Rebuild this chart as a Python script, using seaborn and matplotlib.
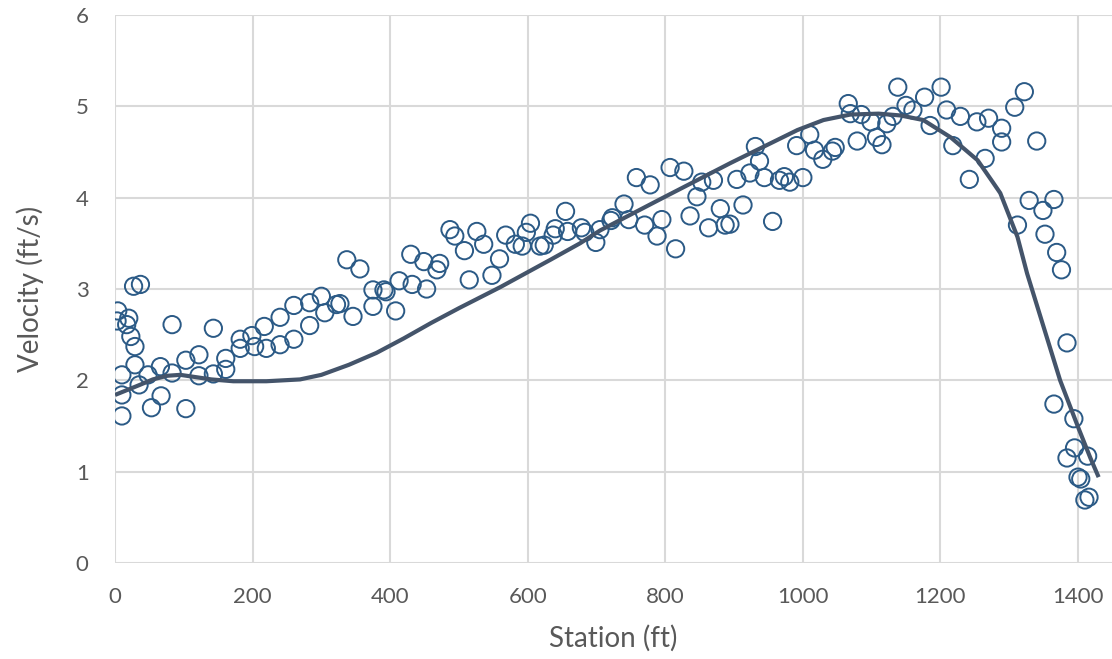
import matplotlib
matplotlib.use("Agg")
import matplotlib.pyplot as plt
import seaborn as sns
import pandas as pd

# Measured velocity points
station_obs = [3, 4, 10, 10, 10, 17, 20, 23, 29, 29, 27, 37, 35, 48, 53, 66, 67, 83, 83,
               103, 103, 122, 122, 143, 143, 161, 161, 182, 182, 199, 203, 217, 220, 240, 240,
               260, 260, 283, 283, 300, 305, 322, 327, 337, 346, 356, 375, 375, 391, 394, 408,
               413, 430, 432, 449, 453, 468, 472, 487, 494, 508, 515, 526, 536, 548, 559, 568,
               582, 592, 604, 598, 618, 624, 637, 640, 655, 658, 678, 683, 699, 705, 721, 723,
               740, 747, 758, 770, 778, 788, 795, 807, 815, 827, 836, 846, 853, 863, 870, 880,
               887, 894, 904, 913, 923, 931, 937, 944, 956, 966, 973, 981, 991, 1000, 1010, 1017,
               1029, 1043, 1047, 1066, 1069, 1079, 1085, 1099, 1107, 1115, 1122, 1131, 1138, 1150,
               1160, 1177, 1185, 1201, 1209, 1218, 1229, 1242, 1253, 1265, 1270, 1289, 1289, 1308,
               1322, 1312, 1329, 1340, 1349, 1352, 1365, 1369, 1376, 1365, 1384, 1394, 1395, 1384,
               1414, 1400, 1404, 1410, 1416]
velocity_obs = [2.65, 2.76, 2.06, 1.84, 1.61, 2.61, 2.68, 2.48, 2.37, 2.17, 3.03, 3.05, 1.95, 2.06,
                1.70, 2.15, 1.83, 2.61, 2.08, 1.69, 2.22, 2.28, 2.05, 2.57, 2.07, 2.24, 2.12, 2.45,
                2.35, 2.49, 2.37, 2.59, 2.35, 2.69, 2.39, 2.82, 2.45, 2.85, 2.60, 2.92, 2.74, 2.83,
                2.84, 3.32, 2.70, 3.22, 2.99, 2.81, 2.99, 2.97, 2.76, 3.09, 3.38, 3.05, 3.30, 3.00,
                3.21, 3.28, 3.65, 3.58, 3.42, 3.10, 3.63, 3.49, 3.15, 3.33, 3.59, 3.49, 3.47, 3.72,
                3.62, 3.47, 3.48, 3.59, 3.66, 3.85, 3.63, 3.67, 3.62, 3.51, 3.65, 3.75, 3.78, 3.93,
                3.76, 4.22, 3.70, 4.14, 3.58, 3.76, 4.33, 3.44, 4.29, 3.80, 4.01, 4.17, 3.67, 4.19,
                3.88, 3.70, 3.71, 4.20, 3.92, 4.27, 4.56, 4.40, 4.22, 3.74, 4.19, 4.23, 4.17, 4.57,
                4.22, 4.69, 4.52, 4.42, 4.51, 4.55, 5.03, 4.92, 4.62, 4.91, 4.83, 4.66, 4.58, 4.81,
                4.89, 5.21, 5.01, 4.96, 5.10, 4.79, 5.21, 4.96, 4.57, 4.89, 4.20, 4.83, 4.43, 4.87,
                4.76, 4.61, 4.99, 5.16, 3.70, 3.97, 4.62, 3.86, 3.60, 3.98, 3.40, 3.21, 1.74, 2.41,
                1.58, 1.26, 1.15, 1.17, 0.94, 0.92, 0.69, 0.72]

# Model (smooth) curve
station_model = [0, 36, 55, 76, 95, 113, 140, 172, 220, 269, 300, 340, 380, 420, 460, 500,
                 560, 633, 676, 705, 797, 895, 992, 1030, 1069, 1110, 1142, 1175, 1215, 1254,
                 1277, 1287, 1312, 1326, 1374, 1400, 1418, 1430]
velocity_model = [1.84, 1.95, 2.01, 2.05, 2.06, 2.04, 2.01, 1.99, 1.99, 2.01, 2.06, 2.17, 2.30,
                  2.46, 2.63, 2.79, 3.02, 3.32, 3.50, 3.64, 4.00, 4.38, 4.74, 4.85, 4.91, 4.92,
                  4.90, 4.85, 4.66, 4.41, 4.16, 4.05, 3.57, 3.17, 2.00, 1.49, 1.15, 0.94]

x_ticks = [0, 200, 400, 600, 800, 1000, 1200, 1400]
y_ticks = [0, 1, 2, 3, 4, 5, 6]

obs = pd.DataFrame({"Station": station_obs, "Velocity": velocity_obs})
model = pd.DataFrame({"Station": station_model, "Velocity": velocity_model})

sns.set_theme(style="white")
plt.rcParams["font.family"] = ["Lato", "DejaVu Sans"]

fig = plt.figure(figsize=(11.12, 6.59), dpi=100)
ax = fig.add_axes([115 / 1112, 1 - 563 / 659, (1112 - 115) / 1112, (563 - 15) / 659])

sns.scatterplot(data=obs, x="Station", y="Velocity", ax=ax, s=155,
                facecolor="none", edgecolor="#2B5A86", linewidth=1.4, zorder=3)
sns.lineplot(data=model, x="Station", y="Velocity", ax=ax, sort=False,
             color="#44546A", linewidth=3.0, zorder=4,
             solid_capstyle="butt", solid_joinstyle="round")

ax.set_xlim(0, (1112 - 115) * 1400 / 963)
ax.set_ylim(0, 6)
ax.set_xticks(x_ticks)
ax.set_yticks(y_ticks)
ax.grid(True, color="#D9D9D9", linewidth=1.5, zorder=0)
ax.set_axisbelow(True)
for s in ax.spines.values():
    s.set_visible(False)
ax.tick_params(axis="both", length=0, labelsize=16, colors="#595959")
ax.tick_params(axis="x", pad=17)
ax.tick_params(axis="y", pad=19)
ax.set_xlabel("Station (ft)", fontsize=20, color="#595959", labelpad=13)
ax.set_ylabel("Velocity (ft/s)", fontsize=20, color="#595959", labelpad=23)

fig.savefig("out.png", dpi=100)
